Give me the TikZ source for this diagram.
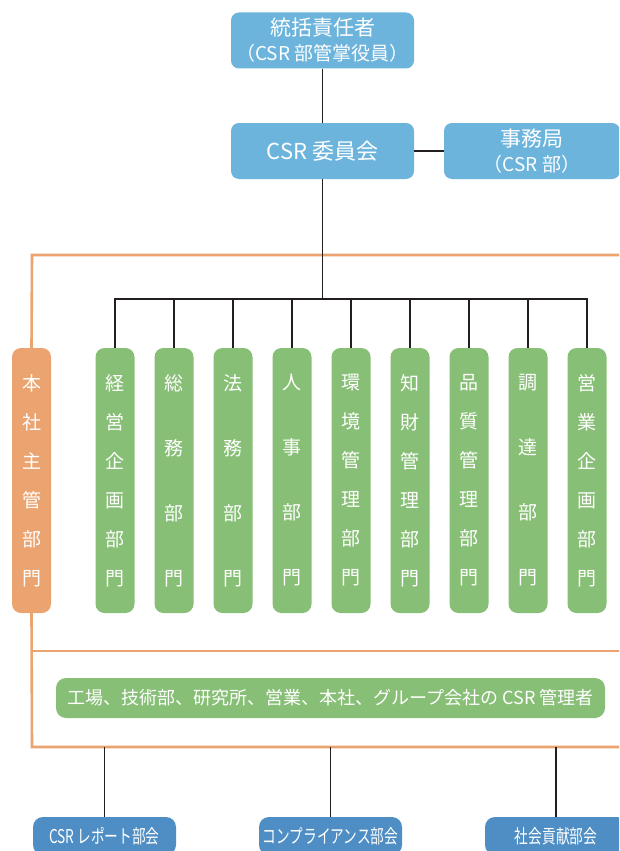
\documentclass[tikz,border=0pt]{standalone}
\usepackage{fontspec}
\newfontfamily\jpfont{Noto Sans CJK JP}
\newfontfamily\jpnarrow[FakeStretch=0.72]{Noto Sans CJK JP}
\usepackage{xcolor}
\definecolor{topblue}{HTML}{6CB4DC}
\definecolor{lowblue}{HTML}{4E8EC5}
\definecolor{deptgreen}{HTML}{88BF76}
\definecolor{hqorange}{HTML}{EBA470}
\definecolor{lineblack}{HTML}{231F20}
\tikzset{
  board/.style={ % light blue boxes at the top
    rectangle, rounded corners=8pt, fill=topblue, text=white,
    minimum width=183pt, minimum height=56pt, inner sep=0pt,
    align=center, font=\jpfont\fontsize{21}{25}\selectfont
  },
  dept/.style={ % tall department box, text runs downwards
    rectangle, rounded corners=9pt, fill=deptgreen, text=white,
    minimum width=39pt, minimum height=265pt, inner sep=0pt,
    align=center, font=\jpfont\fontsize{19}{39}\selectfont
  },
  deptwide/.style={dept, font=\jpfont\fontsize{19}{65}\selectfont},
  hqbox/.style={dept, fill=hqorange},
  subcom/.style={ % dark blue committees at the bottom
    rectangle, rounded corners=10pt, fill=lowblue, text=white,
    minimum width=143pt, minimum height=38pt, inner sep=0pt,
    font=\jpnarrow\fontsize{19}{20}\selectfont
  },
  link/.style={draw=lineblack, line width=1.7pt},
  frame/.style={draw=hqorange, line width=2.6pt}
}
\begin{document}
\begin{tikzpicture}[x=1pt, y=-1pt]
  \useasboundingbox (0,0) rectangle (619,851);
  \clip (0,0) rectangle (619,851);

  \node[board] (head) at (322.5,40.5) {統括責任者\\{\fontsize{19}{22}\selectfont （CSR 部管掌役員）}};
  \node[board, font=\jpfont\fontsize{22}{25}\selectfont] (committee) at (322.5,151) {CSR 委員会};
  \node[board, minimum width=176pt] (office) at (532,151) {事務局\\{\fontsize{19}{22}\selectfont （CSR 部）}};

  \node[hqbox] (hq) at (31.5,480.5) {本\\社\\主\\管\\部\\門};
  \node[dept] (plan) at (115,480.5) {経\\営\\企\\画\\部\\門};
  \node[deptwide] (general) at (174,480.5) {総\\務\\部\\門};
  \node[deptwide] (legal) at (233,480.5) {法\\務\\部\\門};
  \node[deptwide] (hr) at (292,480.5) {人\\事\\部\\門};
  \node[dept] (env) at (351,480.5) {環\\境\\管\\理\\部\\門};
  \node[dept] (ip) at (410,480.5) {知\\財\\管\\理\\部\\門};
  \node[dept] (quality) at (469,480.5) {品\\質\\管\\理\\部\\門};
  \node[deptwide] (purchase) at (528,480.5) {調\\達\\部\\門};
  \node[dept] (sales) at (587,480.5) {営\\業\\企\\画\\部\\門};

  \node[dept, minimum width=549pt, minimum height=40pt, rounded corners=10pt,
        font=\jpfont\fontsize{18}{22}\selectfont] (managers) at (330.5,698)
        {工場、技術部、研究所、営業、本社、グループ会社の CSR 管理者};

  \node[subcom] (report) at (104.5,836) {CSR レポート部会};
  \node[subcom] (compliance) at (330.5,836) {コンプライアンス部会};
  \node[subcom, minimum width=142pt] (social) at (556,836) {社会貢献部会};

  % orange frame round the departments
  \coordinate (frametop) at (32,255);
  \coordinate (framemid) at (32,651);
  \coordinate (framebot) at (32,747);
  \draw[frame] (hq.north) -- (frametop) -- ++(620,0);
  \draw[frame] (hq.south) -- (framebot) -- ++(620,0);
  \draw[frame] (framemid) -- ++(620,0);

  \coordinate (bus) at (322.5,299);
  \draw[link] (head) -- (committee);
  \draw[link] (committee) -- (office);
  \draw[link] (committee.south) -- (bus);
  \draw[link] (plan.north) |- (bus) -| (sales.north);
  \foreach \d in {general,legal,hr,env,ip,quality,purchase}
    \draw[link] (\d.north) -- (\d.north |- bus);

  \foreach \c in {report,compliance,social}
    \draw[link] (\c.north) -- (\c.north |- framebot);
\end{tikzpicture}
\end{document}
